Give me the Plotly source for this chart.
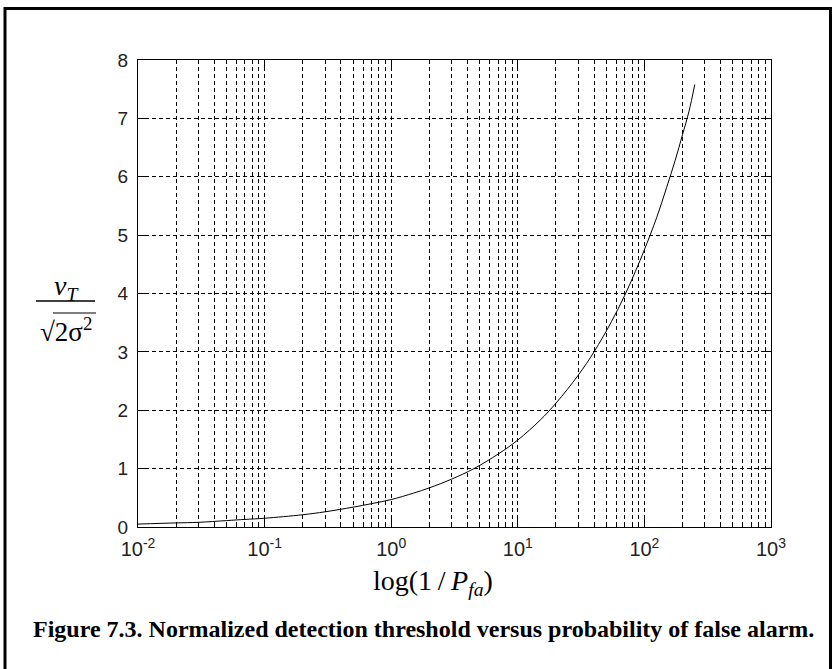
import plotly.graph_objects as go

# ---- data ----
x_vals = [0.01, 0.02, 0.03, 0.05, 0.07, 0.1, 0.2, 0.3, 0.5, 0.7, 1, 1.5, 2, 3, 4.5, 7,
          10, 15, 20, 30, 40, 55, 70, 85, 100, 125, 150, 175, 200, 225, 250]
y_vals = [0.05, 0.07, 0.08, 0.11, 0.13, 0.15, 0.21, 0.26, 0.34, 0.40, 0.47, 0.58, 0.67,
          0.82, 1.0, 1.25, 1.49, 1.83, 2.12, 2.6, 3.0, 3.52, 3.97, 4.38, 4.75, 5.3, 5.82,
          6.28, 6.72, 7.12, 7.58]
x_major = [0.01, 0.1, 1, 10, 100, 1000]
x_major_text = ["10<sup>-2</sup>", "10<sup>-1</sup>", "10<sup>0</sup>",
                "10<sup>1</sup>", "10<sup>2</sup>", "10<sup>3</sup>"]
x_minor = [m * d for d in [0.01, 0.1, 1, 10, 100] for m in range(2, 10)]
y_ticks = [0, 1, 2, 3, 4, 5, 6, 7, 8]

W, H = 837, 669
L, R, T, B = 138, 771, 60, 527


def px(xp):
    return (xp - L) / (R - L)


def py(yp):
    return (B - yp) / (B - T)


SERIF = "Liberation Serif"
SANS = "Liberation Sans"
DASH = "4px,3px"

fig = go.Figure()
fig.add_trace(go.Scatter(x=x_vals, y=y_vals, mode="lines",
                         line=dict(color="black", width=1, shape="spline"),
                         showlegend=False, hoverinfo="skip"))

fig.update_layout(
    width=W, height=H,
    margin=dict(l=L, r=W - R, t=T, b=H - B, pad=0),
    paper_bgcolor="white", plot_bgcolor="white",
    showlegend=False,
    xaxis=dict(
        type="log", range=[-2, 3],
        tickmode="array", tickvals=x_major, ticktext=x_major_text,
        ticks="inside", ticklen=8, tickcolor="black", tickwidth=1,
        showline=True, linecolor="black", linewidth=1, mirror="allticks",
        showgrid=True, gridcolor="black", gridwidth=1, griddash=DASH,
        tickfont=dict(family=SANS, size=20, color="#222"),
        ticklabelstandoff=4,
        zeroline=False,
        minor=dict(tickmode="array", tickvals=x_minor, ticks="inside", ticklen=4,
                   tickcolor="black", showgrid=True, gridcolor="black",
                   gridwidth=1, griddash=DASH),
    ),
    yaxis=dict(
        range=[0, 8], tickmode="array", tickvals=y_ticks,
        ticktext=[str(v) for v in y_ticks],
        ticks="inside", ticklen=8, tickcolor="black", tickwidth=1,
        showline=True, linecolor="black", linewidth=1, mirror="allticks",
        showgrid=True, gridcolor="black", gridwidth=1, griddash=DASH,
        tickfont=dict(family=SANS, size=19, color="#222"),
        ticklabelstandoff=5,
        zeroline=False,
    ),
)

shapes = [
    # outer frame
    dict(type="rect", xref="paper", yref="paper",
         x0=px(5), x1=px(830.5), y0=py(700), y1=py(8.5),
         line=dict(color="black", width=3), fillcolor="rgba(0,0,0,0)", layer="above"),
    # fraction bar
    dict(type="line", xref="paper", yref="paper",
         x0=px(36), x1=px(95), y0=py(301), y1=py(301),
         line=dict(color="black", width=1.5)),
    # radical overline
    dict(type="line", xref="paper", yref="paper",
         x0=px(53), x1=px(96), y0=py(313), y1=py(313),
         line=dict(color="black", width=1.2)),
]
fig.update_layout(shapes=shapes)

annotations = [
    dict(text="<i>v</i><sub><i>T</i></sub>", x=px(66), y=py(287),
         font=dict(family=SERIF, size=28, color="black")),
    dict(text="√2σ<sup>2</sup>", x=px(66), y=py(330),
         font=dict(family=SERIF, size=27, color="black")),
    dict(text="log(1\u2009/\u2009<i>P</i><sub><i>fa</i></sub>)", x=px(433), y=py(582),
         font=dict(family=SERIF, size=28, color="black")),
    dict(text="<b>Figure 7.3. Normalized detection threshold versus probability of false alarm.</b>",
         x=px(423), y=py(629),
         font=dict(family=SERIF, size=24, color="black")),
]
for a in annotations:
    a.update(xref="paper", yref="paper", showarrow=False,
             xanchor="center", yanchor="middle")
fig.update_layout(annotations=annotations)

fig.write_html("out.html")
